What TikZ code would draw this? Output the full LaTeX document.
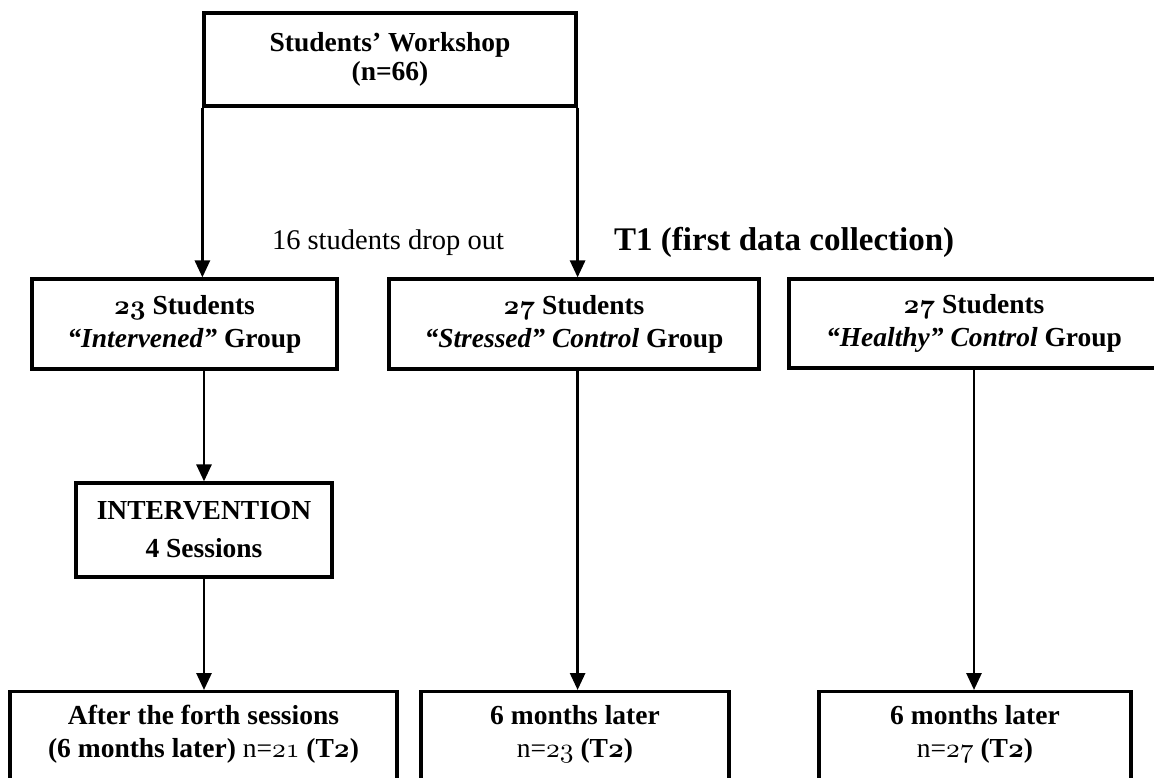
\documentclass[tikz,border=0pt]{standalone}
\usepackage{fontspec}
\setmainfont{Liberation Serif}
\usetikzlibrary{arrows.meta}
% old-style figures taken from the Computer Modern math italic fonts
\DeclareFontFamily{OML}{osfig}{\skewchar\font=127 }
\DeclareFontShape{OML}{osfig}{m}{it}{<->cmmi10}{}
\DeclareFontShape{OML}{osfig}{b}{it}{<->cmmib10}{}
\newcommand{\osb}[1]{{\fontencoding{OML}\fontfamily{osfig}\fontseries{b}\fontshape{it}\selectfont #1}}
\newcommand{\osm}[1]{{\fontencoding{OML}\fontfamily{osfig}\fontseries{m}\fontshape{it}\selectfont #1}}
% two-line text hanging from the top of a box that runs off the page
\newcommand{\toplines}[1]{\raisebox{0pt}[\height][58pt]{\begin{tabular}[t]{@{}c@{}}#1\end{tabular}}}
\begin{document}
\begin{tikzpicture}[x=1pt,y=-1pt,
  txt/.style={font=\fontsize{28.5}{33}\selectfont},
  box/.style={draw, line width=3.2pt, align=center, inner sep=0pt,
    font=\bfseries\fontsize{27.5}{33}\selectfont},
  lowbox/.style={box, anchor=north, inner xsep=0pt, inner ysep=10pt},
  arr/.style={line width=2.8pt, -{Triangle[width=15pt,length=17pt]}},
  lbl/.style={txt, inner sep=0pt, anchor=base}]
\useasboundingbox (0,0) rectangle (1154,778);
\clip (0,0) rectangle (1154,778);

% boxes
\node[box, minimum width=372pt, minimum height=93pt] (top) at (390,59.5)
  {Students’ Workshop\\[-4pt](n=66)};
\node[box, minimum width=305pt, minimum height=90pt] (g1) at (184.5,324)
  {\osb{23} Students\\\textit{“Intervened”} Group};
\node[box, minimum width=370pt, minimum height=90pt] (gs) at (574,324)
  {\osb{27} Students\\\textit{“Stressed” Control} Group};
\node[box, minimum width=370pt, minimum height=89pt] (gh) at (974,323.5)
  {\osb{27} Students\\\textit{“Healthy” Control} Group};
\node[box, minimum width=256pt, minimum height=94pt] (iv) at (204,530)
  {INTERVENTION\\[5pt]4 Sessions};
\node[lowbox, minimum width=387pt] (bl) at (203.5,690)
  {\toplines{After the forth sessions\\(6 months later) {\mdseries n=\osm{21}} (T\osb{2})}};
\node[lowbox, minimum width=308pt] (bm) at (575,690)
  {\toplines{6 months later\\{\mdseries n=\osm{23}} (T\osb{2})}};
\node[lowbox, minimum width=312pt] (br) at (975,690)
  {\toplines{6 months later\\{\mdseries n=\osm{27}} (T\osb{2})}};

% free labels
\node[lbl] (drop) at (388,250) {16 students drop out};
\node[lbl, anchor=base west, font=\bfseries\fontsize{33}{37}\selectfont] (t1) at (614,251)
  {T1 (first data collection)};

% connectors
\draw[arr] (top.south west) -- (top.south west |- g1.north);
\draw[arr] (top.south east) -- (top.south east |- gs.north);
\draw[arr] (iv.north |- g1.south) -- (iv.north);
\draw[arr] (iv.south) -- (iv.south |- bl.north);
\draw[arr] (top.south east |- gs.south) -- (top.south east |- bm.north);
\draw[arr] (gh.south) -- (gh.south |- br.north);
\end{tikzpicture}
\end{document}
